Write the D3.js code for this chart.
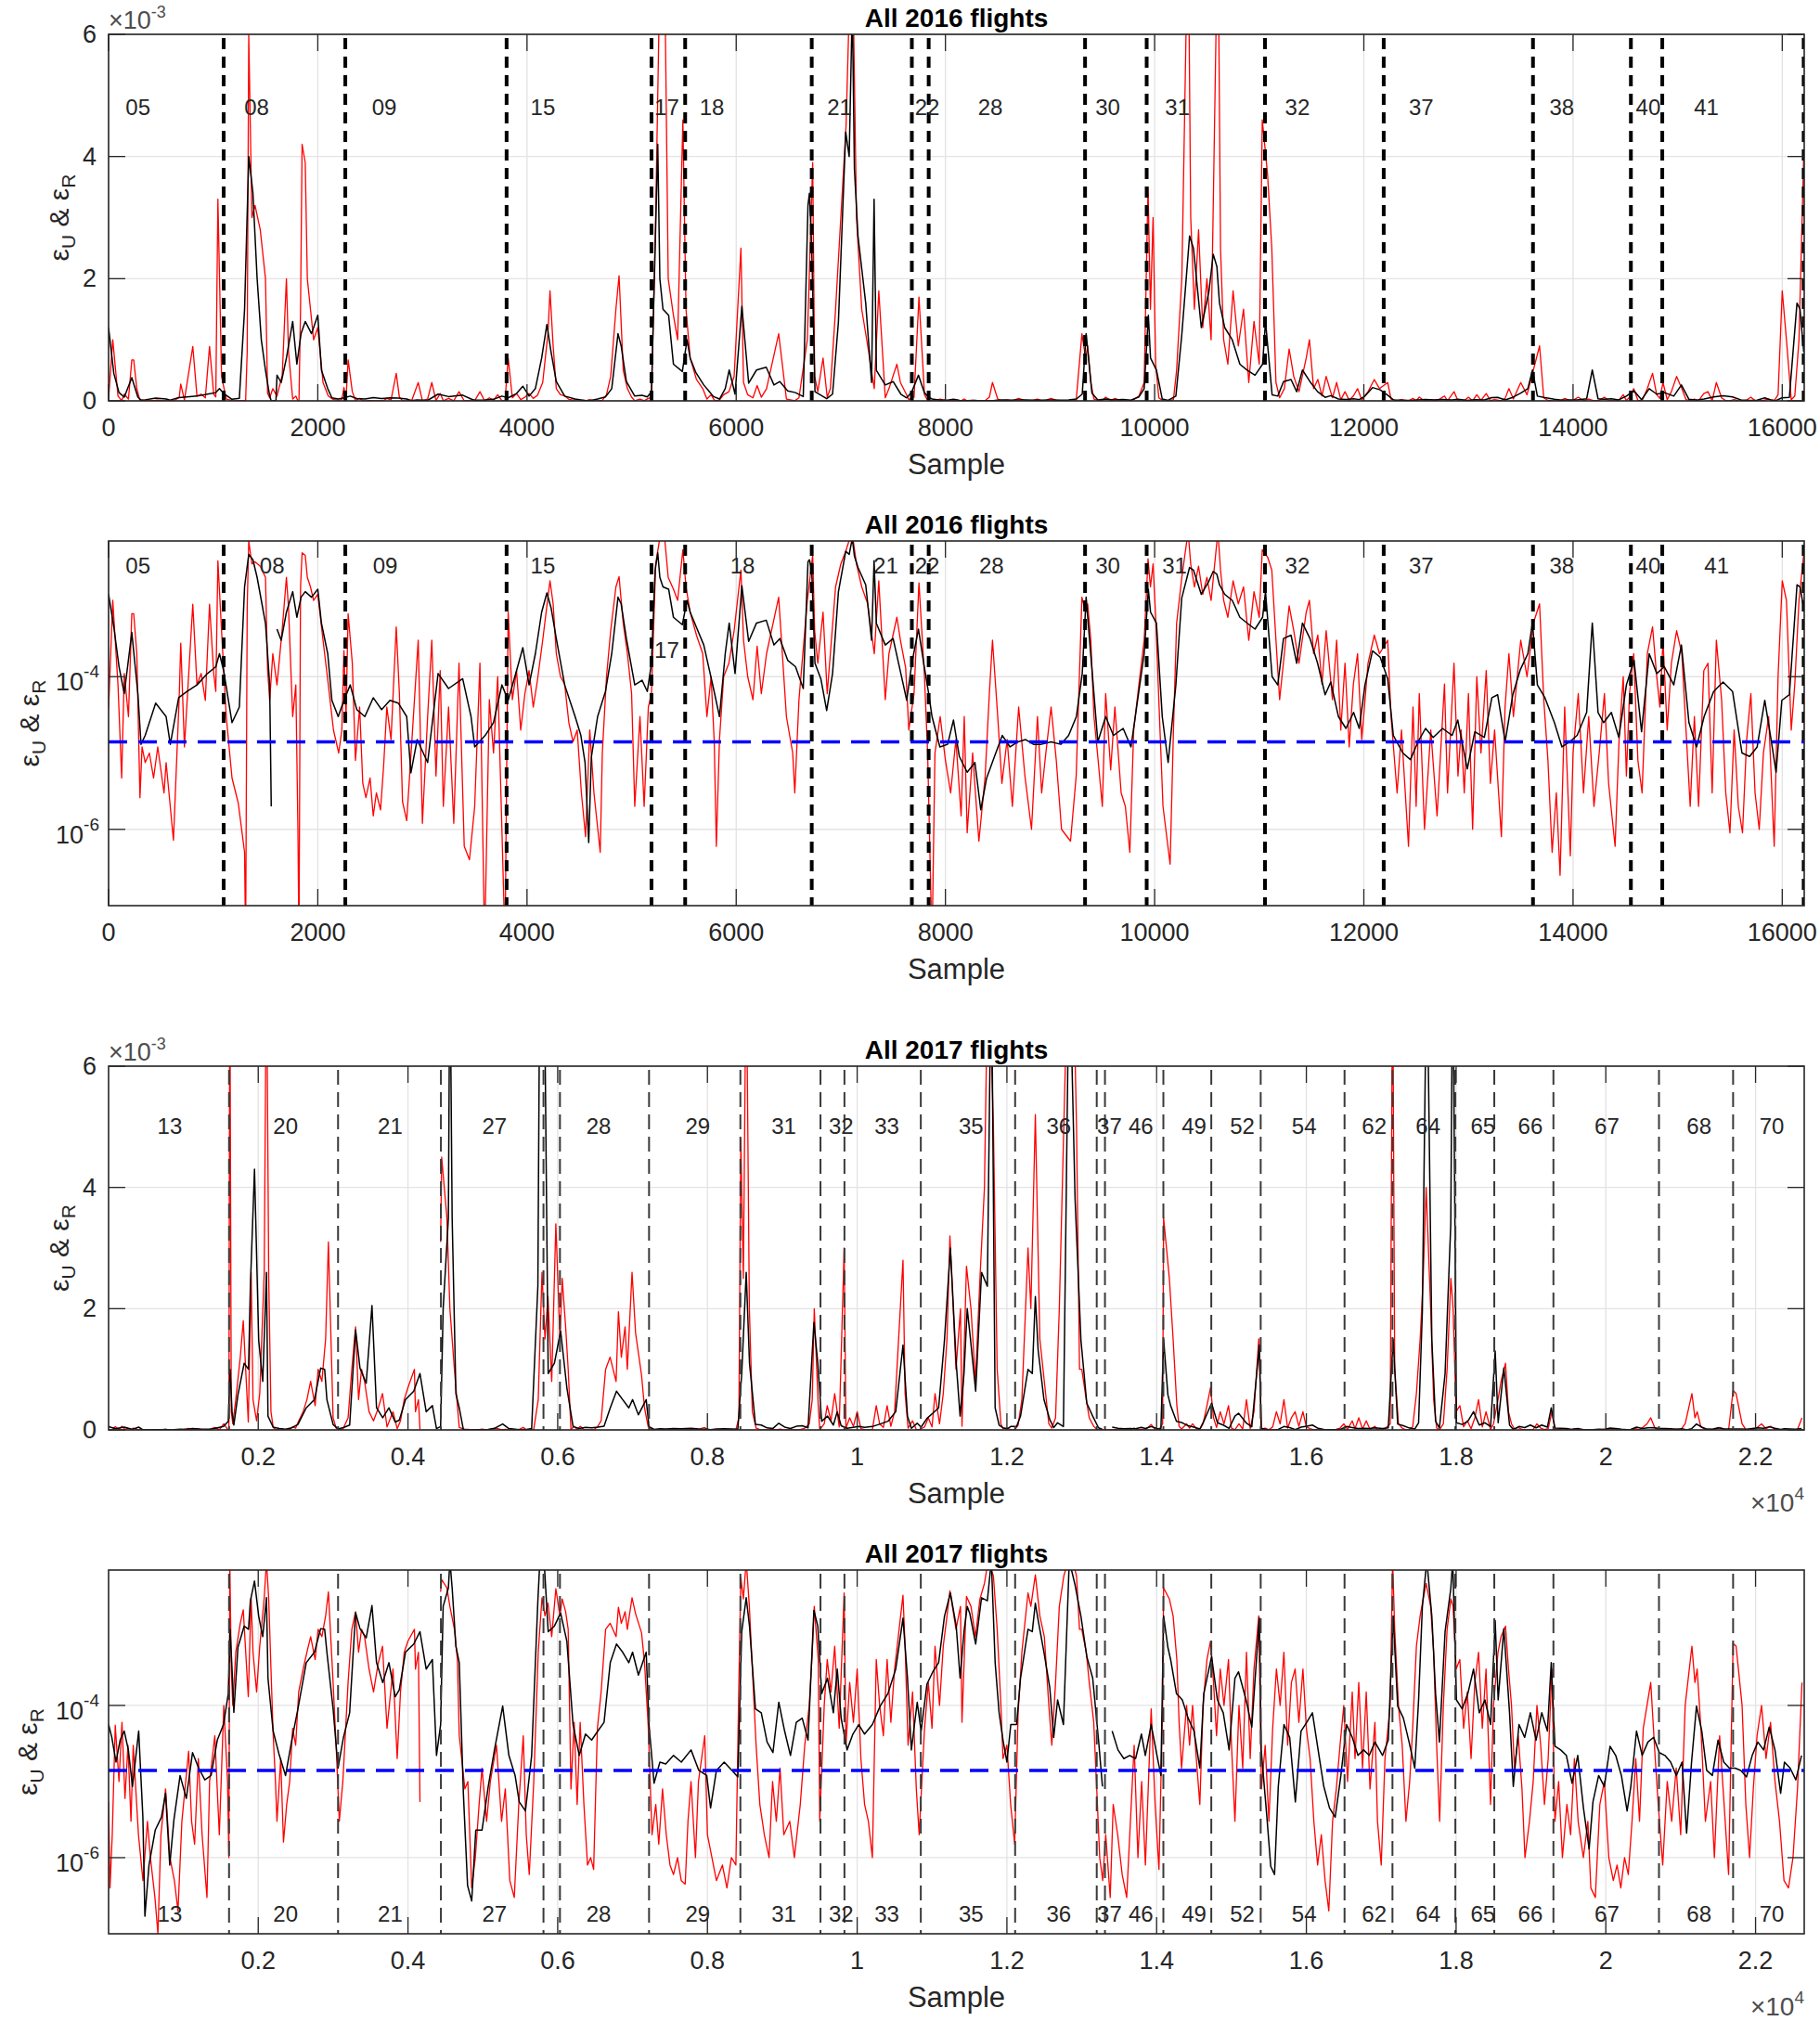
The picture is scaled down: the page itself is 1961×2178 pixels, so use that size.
<!DOCTYPE html>
<html><head><meta charset="utf-8">
<script src="https://cdn.jsdelivr.net/npm/d3@7"></script>
<style>body{margin:0;background:#fff}svg text{font-family:"Liberation Sans",Arial,Helvetica,sans-serif}</style>
</head><body><svg id="c" width="1961" height="2178"></svg>
<script>
// ---- DATA (values in units of 1e-6; [sample, value]) ----
const black2016 = [[0,1200],[50,450],[100,135],[150,60],[222,380],[280,60],[310,13],[350,17],[450,45],[550,30],[590,13],[670,53],[750,64],[845,78],[945,110],[1025,135],[1060,200],[1100,120],[1180,25],[1250,40],[1300,1500],[1340,4000],[1380,3400],[1420,2000],[1460,1000],[1500,500],[1540,78],[1555,2],[1565,0],[1600,0],[1610,420],[1650,300],[1700,700],[1760,1300],[1800,600],[1840,1100],[1880,1300],[1940,1100],[2000,1400],[2035,500],[2095,200],[2135,49],[2195,30],[2250,49],[2310,78],[2373,37],[2450,30],[2530,53],[2610,37],[2690,49],[2770,45],[2850,30],[2890,5.5],[2950,15],[3050,7.5],[3150,110],[3250,70],[3385,94],[3465,30],[3500,12],[3600,17],[3680,25],[3760,78],[3820,49],[3900,120],[3960,240],[4020,78],[4080,200],[4140,700],[4190,1250],[4230,800],[4280,316],[4360,78],[4460,30],[4515,17],[4555,7.5],[4590,0.67],[4615,8.8],[4675,30],[4750,64],[4810,200],[4870,1100],[4900,900],[4950,316],[5030,78],[5100,90],[5150,64],[5190,150],[5225,2500],[5250,4200],[5270,2000],[5300,1500],[5354,1400],[5400,600],[5485,480],[5530,1000],[5560,700],[5615,460],[5690,260],[5783,70],[5840,30],[5895,200],[5933,505],[5989,110],[6054,1550],[6119,290],[6194,505],[6287,550],[6361,260],[6417,316],[6492,164],[6567,135],[6641,70],[6686,3200],[6700,3400],[6722,2500],[6753,150],[6809,94],[6865,36],[6921,110],[6977,1290],[7047,4400],[7080,4000],[7110,6500],[7130,3800],[7164,2700],[7238,1600],[7294,300],[7318,3300],[7340,500],[7425,260],[7500,316],[7574,110],[7630,49],[7679,150],[7742,420],[7798,135],[7840,60],[7872,30],[7947,12],[8021,13],[8077,27],[8133,9],[8208,5.6],[8282,7.5],[8338,1.8],[8394,4.7],[8469,9],[8544,17],[8618,12],[8693,14],[8767,15],[8842,13],[8916,13],[9010,14],[9103,13],[9178,17],[9252,30],[9308,110],[9345,1100],[9401,124],[9457,14],[9532,30],[9606,17],[9699,21],[9774,12],[9849,64],[9900,200],[9940,1400],[9961,700],[10017,505],[10073,30],[10129,7.5],[10203,78],[10259,1070],[10334,2700],[10371,2500],[10446,1200],[10520,1800],[10560,2400],[10595,2200],[10620,1600],[10670,1200],[10742,1000],[10815,600],[10887,500],[10960,420],[11032,600],[11060,1300],[11123,100],[11177,78],[11232,316],[11304,350],[11358,150],[11413,505],[11485,316],[11558,150],[11630,58],[11684,85],[11757,30],[11829,21],[11902,34],[11956,21],[12011,78],[12083,218],[12156,180],[12228,94],[12282,17],[12373,10],[12445,8.2],[12518,14],[12590,21],[12663,16],[12753,21],[12844,17],[12898,27],[12989,6.2],[13061,19],[13152,16],[13224,53],[13279,58],[13351,14],[13424,58],[13496,124],[13568,200],[13612,505],[13659,78],[13731,53],[13822,25],[13894,12],[13967,14],[14039,17],[14130,34],[14184,505],[14239,34],[14293,25],[14366,34],[14438,16],[14510,78],[14583,164],[14655,19],[14728,200],[14800,110],[14873,135],[14963,78],[15036,260],[15108,25],[15181,12],[15253,30],[15344,64],[15434,85],[15525,64],[15615,10],[15688,9],[15760,12],[15833,49],[15887,17],[15941,5.6],[15996,49],[16068,58],[16141,1600],[16170,1500],[16205,800]];

const red2016 = [[0,38],[40,1000],[90,78],[125,4.7],[150,110],[190,30],[222,670],[240,670],[270,200],[300,2.6],[320,12],[350,7.5],[390,10],[430,4.7],[470,12],[530,3],[550,7.5],[620,0.72],[675,53],[690,275],[725,12],[805,890],[845,78],[885,110],[925,49],[965,890],[1005,110],[1025,64],[1045,3300],[1080,400],[1125,30],[1180,4.7],[1240,2.2],[1300,0.5],[1310,0.03],[1325,800],[1340,6000],[1370,3000],[1400,3200],[1450,2800],[1500,2000],[1520,124],[1540,49],[1570,200],[1610,78],[1660,420],[1700,2000],[1720,808],[1760,30],[1790,78],[1810,1],[1820,0.03],[1835,1500],[1850,4200],[1880,3900],[1900,2000],[1930,1500],[1960,1000],[2000,1200],[2050,300],[2100,80],[2150,20],[2200,10],[2230,20],[2250,220],[2270,30],[2290,670],[2330,150],[2360,8],[2400,40],[2430,4],[2460,2.6],[2500,4.7],[2530,1.5],[2560,3],[2600,1.8],[2630,7],[2660,40],[2700,15],[2750,450],[2780,60],[2810,2.3],[2850,1.3],[2900,15],[2960,300],[3000,1.2],[3050,30],[3090,300],[3130,5],[3170,120],[3200,2],[3250,40],[3300,1.2],[3350,150],[3400,0.6],[3450,0.4],[3500,2],[3550,150],[3595,0.03],[3640,50],[3680,10],[3720,100],[3760,1],[3790,0.03],[3820,700],[3860,50],[3900,120],[3940,20],[3980,60],[4020,120],[4060,40],[4100,90],[4150,300],[4200,1100],[4220,1800],[4250,900],[4280,200],[4320,100],[4360,80],[4400,25],[4440,14],[4480,20],[4520,3],[4560,0.8],[4600,20],[4640,3],[4700,0.5],[4720,10],[4760,100],[4800,400],[4850,1500],[4880,2050],[4920,500],[4960,200],[5000,60],[5030,2],[5080,30],[5120,2],[5160,40],[5190,60],[5230,3000],[5280,8000],[5310,8000],[5350,2000],[5400,1400],[5440,1000],[5490,4600],[5520,1500],[5560,700],[5620,350],[5680,200],[5720,30],[5760,100],[5790,14],[5810,0.6],[5840,15],[5880,100],[5930,150],[5980,400],[6045,2500],[6070,300],[6110,100],[6160,50],[6200,250],[6240,60],[6290,200],[6406,1100],[6480,30],[6540,10],[6560,3],[6600,50],[6680,1000],[6731,3900],[6750,400],[6780,150],[6830,700],[6870,60],[6900,200],[6950,1500],[7000,3000],[7050,4500],[7106,8000],[7150,3000],[7200,1500],[7257,900],[7320,200],[7363,1800],[7425,50],[7460,200],[7536,600],[7570,300],[7620,130],[7650,20],[7700,60],[7747,1700],[7800,100],[7830,10],[7872,0.03],[7900,10],[7950,30],[8000,8],[8050,3],[8100,15],[8150,1.5],[8180,30],[8208,0.9],[8260,10],[8320,0.7],[8380,5],[8420,60],[8450,300],[8500,30],[8540,4],[8590,15],[8640,2],[8700,40],[8760,5],[8823,1],[8880,30],[8920,3],[8960,10],[9010,40],[9060,8],[9110,1],[9196,0.7],[9250,5],[9305,1100],[9340,700],[9360,900],[9390,300],[9420,30],[9460,8],[9500,2],[9532,60],[9580,6],[9620,40],[9680,3],[9720,2],[9763,0.5],[9800,20],[9850,80],[9900,300],[9937,3500],[9960,1500],[9985,3000],[10010,600],[10040,50],[10080,2],[10148,0.35],[10180,20],[10210,500],[10260,2000],[10320,8000],[10345,3000],[10380,1500],[10420,2800],[10460,1200],[10500,2000],[10540,1000],[10605,8000],[10630,2500],[10660,1000],[10700,600],[10750,1800],[10800,900],[10850,1500],[10900,300],[10950,1300],[11000,600],[11029,4600],[11080,3700],[11120,2500],[11160,300],[11195,50],[11240,200],[11286,850],[11330,400],[11380,150],[11449,700],[11480,1000],[11520,200],[11560,350],[11600,80],[11640,400],[11700,50],[11740,300],[11780,20],[11820,150],[11860,12],[11900,80],[11940,200],[11980,15],[12040,150],[12100,350],[12150,200],[12228,300],[12260,30],[12318,3],[12360,20],[12427,0.6],[12470,40],[12500,2],[12530,60],[12580,1],[12640,20],[12700,1.5],[12771,80],[12800,3],[12862,150],[12900,5],[12930,20],[12960,3],[13000,60],[13040,1],[13080,100],[13120,10],[13170,120],[13210,4],[13250,20],[13315,0.8],[13350,40],[13387,200],[13430,30],[13500,300],[13560,100],[13620,500],[13680,900],[13720,50],[13760,8],[13800,0.5],[13840,3],[13876,0.25],[13920,40],[13974,0.45],[14000,10],[14050,60],[14100,3],[14150,30],[14200,2],[14250,10],[14300,60],[14340,4],[14402,0.6],[14440,15],[14480,100],[14510,5],[14540,60],[14580,200],[14620,8],[14660,3],[14710,200],[14760,450],[14800,100],[14830,40],[14860,300],[14900,20],[14940,150],[14990,400],[15040,200],[15080,20],[15120,2],[15160,30],[15200,2],[15250,120],[15290,150],[15330,3],[15370,300],[15420,50],[15460,3],[15500,0.9],[15540,20],[15580,2],[15620,0.9],[15660,15],[15700,60],[15740,3],[15780,1],[15820,10],[15870,30],[15923,0.6],[15960,100],[16000,1800],[16040,1000],[16086,20],[16120,80],[16160,1000],[16205,4000]];

const black2017 = [[1,56],[44,38],[100,18],[155,35],[210,46],[265,26],[320,8.6],[403,46],[459,3.4],[486,0.17],[541,0.8],[624,2.3],[707,3.4],[762,7],[818,0.8],[873,3.1],[956,12],[1039,6],[1122,24],[1205,15],[1287,10.5],[1370,12],[1453,35],[1536,56],[1600,143],[1624,1000],[1650,300],[1674,81],[1729,580],[1812,1100],[1870,1000],[1895,2370],[1950,4300],[2006,1480],[2060,800],[2110,2600],[2130,228],[2199,46],[2282,22],[2365,12],[2448,35],[2530,90],[2641,364],[2751,500],[2834,1020],[2887,1000],[2917,500],[3000,90],[3066,15],[3138,38],[3221,80],[3300,1650],[3359,1020],[3442,770],[3519,2050],[3580,364],[3663,200],[3746,364],[3829,130],[3884,160],[3967,500],[4077,640],[4160,930],[4243,300],[4326,400],[4381,22],[4436,56],[4470,2000],[4540,3500],[4560,8000],[4590,3500],[4640,600],[4685,364],[4740,7],[4796,0.43],[4851,0.27],[4906,2.3],[4989,2.3],[5072,8.6],[5155,26],[5265,98],[5348,22],[5431,12],[5486,5.4],[5569,4.1],[5652,22],[5735,2370],[5762,8000],[5818,8000],[5873,930],[5956,1100],[6039,1630],[6122,700],[6205,56],[6288,22],[6371,42],[6453,35],[6536,46],[6619,60],[6702,364],[6785,640],[6868,500],[6950,364],[7000,500],[7078,250],[7182,500],[7219,56],[7287,9.5],[7365,18],[7443,17],[7547,22],[7651,18],[7781,26],[7885,14],[7990,12],[8042,4.5],[8120,14],[8224,18],[8328,14],[8406,11.5],[8458,930],[8518,2600],[8562,1100],[8641,90],[8719,80],[8797,33],[8875,24],[8953,110],[9031,46],[9109,22],[9187,60],[9266,68],[9344,35],[9422,1770],[9474,1100],[9526,143],[9604,228],[9682,80],[9734,300],[9786,68],[9865,26],[9943,42],[10021,56],[10099,42],[10203,56],[10307,98],[10411,143],[10515,300],[10612,1400],[10672,228],[10724,26],[10802,110],[10854,46],[10932,190],[11010,276],[11088,364],[11166,1480],[11245,3000],[11323,1100],[11375,228],[11427,930],[11470,2000],[11505,1600],[11583,640],[11661,2600],[11739,2370],[11792,8000],[11843,364],[11896,80],[11948,35],[12000,18],[12052,56],[12130,56],[12182,228],[12282,1000],[12339,930],[12380,2200],[12417,1320],[12495,500],[12573,170],[12625,38],[12677,118],[12755,56],[12833,8000],[12911,3800],[12989,1480],[13067,440],[13146,228],[13224,35],[13276,8.6],[13300,null],[13406,46],[13484,26],[13562,20],[13640,22],[13719,20],[13797,42],[13849,22],[13927,56],[14005,22],[14057,12],[14093,1500],[14150,580],[14187,400],[14265,143],[14343,118],[14421,68],[14499,46],[14577,15],[14630,143],[14734,440],[14812,118],[14890,80],[14968,26],[15046,228],[15094,276],[15195,118],[15271,52],[15372,1400],[15397,26],[15473,3.4],[15524,0.77],[15575,0.6],[15625,8.6],[15701,56],[15777,38],[15853,5.4],[15929,46],[16005,60],[16081,80],[16157,26],[16233,8.6],[16309,4.5],[16385,3.4],[16461,12],[16537,56],[16613,38],[16689,22],[16765,26],[16840,22],[16916,33],[17018,22],[17094,35],[17159,1500],[17220,98],[17296,68],[17372,33],[17448,15],[17499,118],[17549,1950],[17609,8000],[17676,1480],[17726,143],[17777,33],[17853,930],[17929,3400],[17955,8000],[18005,118],[18081,90],[18157,143],[18233,300],[18309,80],[18385,118],[18461,56],[18522,1300],[18562,118],[18638,1020],[18714,80],[18764,8.6],[18840,56],[18916,38],[18992,80],[19068,35],[19144,80],[19220,46],[19271,364],[19321,29],[19397,26],[19473,22],[19549,9.5],[19625,22],[19701,4.5],[19777,1.3],[19828,5.4],[19904,12],[19980,8.6],[20056,29],[20132,22],[20208,12],[20284,4.1],[20334,8.6],[20410,46],[20486,22],[20562,33],[20638,38],[20714,24],[20790,22],[20866,18],[20942,12],[21018,18],[21079,2.1],[21145,18],[21211,98],[21282,46],[21347,14],[21423,12],[21499,35],[21575,18],[21651,15],[21727,15],[21803,14],[21879,11.5],[21955,22],[22031,33],[22107,26],[22183,52],[22259,26],[22335,7],[22386,18],[22462,15],[22538,10.5],[22614,22]];

const red2017 = [[1,5.4],[20,0.4],[50,2],[90,55],[140,10],[180,60],[220,6],[260,30],[300,3],[330,30],[400,2],[460,0.5],[520,3],[560,1],[620,0.3],[660,0.1],[700,2],[762,8],[820,1],[880,0.5],[928,0.2],[980,3],[1070,25],[1110,3],[1150,1.5],[1200,20],[1250,2],[1315,0.3],[1350,10],[1420,40],[1480,2],[1540,100],[1590,10],[1608,1],[1620,8000],[1640,300],[1660,100],[1700,500],[1760,1200],[1800,1800],[1867,130],[1905,2600],[1930,500],[1978,150],[2020,600],[2080,2600],[2110,8000],[2140,2500],[2170,300],[2200,40],[2230,10],[2250,3],[2300,20],[2337,1.6],[2380,5],[2420,10],[2460,50],[2500,30],[2540,150],[2600,300],[2650,500],[2700,800],[2760,400],[2800,1000],[2850,800],[2900,1500],[2937,3100],[3000,200],[3040,30],[3083,3],[3130,10],[3200,200],[3250,1000],[3300,1700],[3340,500],[3380,1000],[3420,800],[3480,300],[3540,150],[3600,350],[3660,600],[3720,50],[3800,300],[3856,20],[3900,150],[3950,500],[4000,700],[4086,1000],[4100,300],[4140,500],[4160,5.4],[4170,null],[4436,3100],[4450,4500],[4520,3500],[4560,2000],[4620,1000],[4660,400],[4685,40],[4760,8],[4800,10],[4851,0.4],[4900,1],[4950,5],[4989,15],[5050,3],[5100,10],[5182,30],[5250,3],[5300,8],[5360,0.5],[5420,0.3],[5480,5],[5540,40],[5580,2],[5620,0.6],[5680,10],[5740,500],[5790,2600],[5830,1500],[5870,2200],[5920,800],[5975,3400],[6030,1500],[6060,2500],[6106,1700],[6140,1000],[6177,8],[6220,60],[6260,5],[6300,60],[6350,5],[6398,0.8],[6440,1],[6480,0.7],[6530,50],[6580,150],[6640,1000],[6700,1200],[6780,800],[6811,1950],[6850,1200],[6900,1700],[6930,1000],[6993,2600],[7040,1600],[7120,900],[7160,360],[7208,56],[7260,2],[7310,5],[7350,1.5],[7400,8],[7450,2],[7500,0.8],[7547,0.6],[7600,1],[7650,0.5],[7703,0.45],[7740,3],[7781,10],[7840,1],[7880,10],[7964,40],[8000,2],[8060,1],[8120,0.5],[8200,0.8],[8260,0.4],[8320,1],[8380,0.8],[8420,200],[8446,4800],[8480,2500],[8518,8000],[8560,2000],[8600,300],[8650,30],[8700,5],[8760,2],[8823,1],[8870,10],[8920,3],[8970,15],[9020,2],[9100,3],[9161,1],[9240,5],[9300,30],[9360,100],[9400,500],[9427,2000],[9480,400],[9500,3],[9560,100],[9600,400],[9650,150],[9700,600],[9760,50],[9826,3000],[9850,30],[9900,200],[9950,60],[10000,300],[10050,20],[10099,5],[10150,3],[10203,1],[10255,400],[10300,100],[10350,40],[10400,400],[10450,60],[10500,300],[10612,2800],[10640,600],[10680,30],[10740,150],[10790,8],[10828,2],[10900,50],[10950,200],[11000,50],[11040,600],[11100,100],[11150,600],[11200,1500],[11239,3200],[11320,1000],[11380,2000],[11400,60],[11460,2700],[11520,2000],[11580,800],[11640,2500],[11700,4000],[11750,8000],[11820,5000],[11870,1000],[11920,100],[11948,20],[12000,30],[12050,5],[12104,1.5],[12150,80],[12200,500],[12282,3000],[12320,2000],[12380,5200],[12440,1500],[12500,800],[12560,100],[12600,30],[12650,200],[12700,2000],[12760,5000],[12820,8000],[12880,8000],[12930,5000],[12970,1000],[13000,1000],[13060,500],[13100,200],[13160,60],[13200,8],[13240,1],[13280,0.5],[13320,2],[13380,0.3],[13420,5],[13480,2],[13540,0.6],[13600,0.3],[13650,3],[13700,30],[13750,1],[13800,10],[13850,0.8],[13927,90],[13980,5],[14031,0.7],[14080,100],[14093,3500],[14170,2500],[14220,1500],[14270,400],[14300,60],[14333,15],[14400,100],[14440,30],[14480,100],[14530,20],[14577,5],[14620,100],[14672,400],[14720,700],[14760,200],[14800,40],[14850,300],[14900,100],[14960,400],[15000,30],[15046,3],[15100,100],[15150,15],[15200,500],[15250,20],[15300,300],[15364,1500],[15400,8],[15450,30],[15500,3],[15550,50],[15600,300],[15650,100],[15700,500],[15750,30],[15800,200],[15850,300],[15900,60],[15954,300],[16000,50],[16050,20],[16100,3],[16150,0.8],[16200,2],[16250,0.5],[16300,0.2],[16350,3],[16400,8],[16450,30],[16500,100],[16550,10],[16613,150],[16650,20],[16700,200],[16750,15],[16800,150],[16850,8],[16916,60],[16950,3],[17000,0.8],[17050,20],[17120,100],[17152,8000],[17180,1000],[17230,100],[17280,30],[17330,3],[17380,10],[17420,50],[17470,600],[17520,1500],[17560,2500],[17600,4000],[17660,2000],[17700,500],[17740,30],[17780,3],[17830,100],[17880,1000],[17930,2500],[17960,2000],[18000,300],[18050,400],[18100,50],[18150,150],[18200,20],[18250,200],[18300,500],[18350,50],[18400,300],[18460,5],[18500,100],[18560,500],[18600,800],[18660,1100],[18700,300],[18740,100],[18780,15],[18830,40],[18880,8],[18920,1],[18980,3],[19030,10],[19080,100],[19130,30],[19180,5],[19230,20],[19280,300],[19320,3],[19370,10],[19420,1],[19480,5],[19530,2],[19580,20],[19630,3],[19700,1],[19760,3],[19800,0.4],[19860,0.3],[19920,5],[19980,10],[20040,1],[20100,0.5],[20150,0.8],[20200,0.4],[20250,1],[20300,0.6],[20350,3],[20400,20],[20450,3],[20500,50],[20550,100],[20600,200],[20660,20],[20700,5],[20760,0.8],[20820,10],[20880,3],[20940,15],[21000,2],[21060,100],[21150,600],[21190,200],[21220,300],[21270,50],[21330,3],[21400,10],[21450,1],[21520,40],[21580,5],[21640,0.6],[21700,650],[21740,600],[21820,100],[21870,5],[21920,1],[21970,8],[22020,40],[22080,100],[22140,20],[22200,60],[22260,10],[22320,3],[22380,0.5],[22440,0.4],[22500,1],[22560,8],[22620,200]];

const bounds2016 = [1100,2263,3805,5190,5512,6722,7679,7840,9335,9924,11055,12190,13617,14553,14853,16205];
const bounds2017 = [1610,3066,4440,5810,6030,7220,8440,9510,9830,10850,12110,13200,13310,14090,14730,15390,16510,17150,17990,18510,19300,20710,21700];

const flights2016 = ["05","08","09","15","17","18","21","22","28","30","31","32","37","38","40","41"];
const flightX2016lin = [281,1415,2636,4152,5336,5767,6988,7826,8430,9552,10218,11365,12549,13893,14719,15274];
const flightX2016log = [281,1563,2645,4152,5336,6060,7430,7826,8440,9552,10190,11365,12549,13893,14719,15373];
const flightY2016log = [2.85e-3,2.85e-3,2.85e-3,2.85e-3,2.2e-4,2.85e-3,2.85e-3,2.85e-3,2.85e-3,2.85e-3,2.85e-3,2.85e-3,2.85e-3,2.85e-3,2.85e-3,2.85e-3];
const flights2017 = ["13","20","21","27","28","29","31","32","33","35","36","37","46","49","52","54","62","64","65","66","67","68","70"];
const flightX2017 = [818,2365,3763,5155,6547,7870,9021,9786,10396,11521,12693,13370,13790,14500,15144,15970,16906,17625,18359,18992,20015,21245,22217];

const xTicks2016 = [0,2000,4000,6000,8000,10000,12000,14000,16000];
const xTicks2017 = [2000,4000,6000,8000,10000,12000,14000,16000,18000,20000,22000];
const yTicksLin = [0,2e-3,4e-3,6e-3];
const yTicksLog = [1e-6,1e-4];
const threshold = 1.4e-5;
const domain2016 = [0,16210];
const domain2017 = [1,22650];

// ---- DRAWING ----
const svg = d3.select("#c");
const L = 117, R = 1944;
const AX = "#262626";
const panels = [
  {top:37,  bottom:432,  log:false, title:"All 2016 flights", black:black2016, red:red2016, bounds:bounds2016, thick:true, names:flights2016, nx:flightX2016lin, ny:flights2016.map(()=>4.8e-3), xt:xTicks2016, dom:domain2016, e4:false, ylx:74},
  {top:583, bottom:976,  log:true,  title:"All 2016 flights", black:black2016, red:red2016, bounds:bounds2016, thick:true, names:flights2016, nx:flightX2016log, ny:flightY2016log, xt:xTicks2016, dom:domain2016, e4:false, ylx:42},
  {top:1149,bottom:1541, log:false, title:"All 2017 flights", black:black2017, red:red2017, bounds:bounds2017, thick:false, names:flights2017, nx:flightX2017, ny:flights2017.map(()=>5e-3), xt:xTicks2017, dom:domain2017, e4:true, ylx:74},
  {top:1692,bottom:2084, log:true,  title:"All 2017 flights", black:black2017, red:red2017, bounds:bounds2017, thick:false, names:flights2017, nx:flightX2017, ny:flights2017.map(()=>1.8e-7), xt:xTicks2017, dom:domain2017, e4:true, ylx:40}
];

panels.forEach((p,i)=>{
  const x = d3.scaleLinear().domain(p.dom).range([L,R]);
  const y = p.log ? d3.scaleLog().domain([1e-7,6e-3]).range([p.bottom,p.top])
                  : d3.scaleLinear().domain([0,6e-3]).range([p.bottom,p.top]);
  const yt = p.log ? yTicksLog : yTicksLin;
  const g = svg.append("g");
  const cid = "clip"+i;
  svg.append("clipPath").attr("id",cid).append("rect")
     .attr("x",L).attr("y",p.top).attr("width",R-L).attr("height",p.bottom-p.top);

  // grid
  g.selectAll(".gx").data(p.xt).join("line")
    .attr("x1",d=>x(d)).attr("x2",d=>x(d)).attr("y1",p.top).attr("y2",p.bottom)
    .attr("stroke","#e3e3e3").attr("stroke-width",1.3);
  g.selectAll(".gy").data(yt).join("line")
    .attr("x1",L).attr("x2",R).attr("y1",d=>y(d)).attr("y2",d=>y(d))
    .attr("stroke","#e3e3e3").attr("stroke-width",1.3);

  const dg = g.append("g").attr("clip-path",`url(#${cid})`);
  const line = d3.line()
    .defined(d=>d[1]!==null && (!p.log || d[1]>0))
    .x(d=>x(d[0])).y(d=>y(d[1]*1e-6));
  dg.append("path").datum(p.red).attr("d",line).attr("fill","none")
    .attr("stroke","#ff0000").attr("stroke-width",1.3).attr("stroke-linejoin","round");
  dg.append("path").datum(p.black).attr("d",line).attr("fill","none")
    .attr("stroke","#000").attr("stroke-width",1.5).attr("stroke-linejoin","round");

  // boundaries
  dg.selectAll(".b").data(p.bounds).join("line")
    .attr("x1",d=>x(d)).attr("x2",d=>x(d)).attr("y1",p.top+4).attr("y2",p.bottom)
    .attr("stroke",p.thick?"#000":"#3a3a3a")
    .attr("stroke-width",p.thick?4:2)
    .attr("stroke-dasharray",p.thick?"12,8":"16,8");

  if(p.log){
    dg.append("line").attr("x1",L).attr("x2",R).attr("y1",y(threshold)).attr("y2",y(threshold))
      .attr("stroke","#0000ff").attr("stroke-width",3.5).attr("stroke-dasharray","20,12");
  }

  // flight labels
  g.selectAll(".fl").data(p.names).join("text")
    .attr("x",(d,k)=>x(p.nx[k])).attr("y",(d,k)=>y(p.ny[k])+8)
    .attr("text-anchor","middle").attr("font-size",24).attr("fill",AX).text(d=>d);

  // ticks (inward) on four sides
  const tl = 18;
  const ax = g.append("g").attr("stroke",AX).attr("stroke-width",1.3);
  p.xt.forEach(t=>{
    ax.append("line").attr("x1",x(t)).attr("x2",x(t)).attr("y1",p.bottom).attr("y2",p.bottom-tl);
    ax.append("line").attr("x1",x(t)).attr("x2",x(t)).attr("y1",p.top).attr("y2",p.top+tl);
  });
  yt.forEach(t=>{
    ax.append("line").attr("x1",L).attr("x2",L+tl).attr("y1",y(t)).attr("y2",y(t));
    ax.append("line").attr("x1",R).attr("x2",R-tl).attr("y1",y(t)).attr("y2",y(t));
  });
  g.append("rect").attr("x",L).attr("y",p.top).attr("width",R-L).attr("height",p.bottom-p.top)
    .attr("fill","none").attr("stroke",AX).attr("stroke-width",1.6);

  // x tick labels
  g.selectAll(".xl").data(p.xt).join("text")
    .attr("x",d=>x(d)).attr("y",p.bottom+38).attr("text-anchor","middle")
    .attr("font-size",27).attr("fill",AX)
    .text(d=>p.e4 ? String(+(d/1e4).toFixed(1)) : String(d));

  // y tick labels
  if(!p.log){
    g.selectAll(".yl").data(yt).join("text")
      .attr("x",104).attr("y",d=>y(d)+9).attr("text-anchor","end")
      .attr("font-size",27).attr("fill",AX).text(d=>String(Math.round(d*1e3)));
    const m = g.append("text").attr("x",L).attr("y",p.top-6).attr("font-size",27).attr("fill","#4d4d4d");
    m.append("tspan").text("\u00d710");
    m.append("tspan").attr("dy",-12).attr("font-size",18).text("-3");
  } else {
    yt.forEach(t=>{
      const tx = g.append("text").attr("x",107).attr("y",y(t)+15).attr("text-anchor","end")
        .attr("font-size",27).attr("fill",AX);
      tx.append("tspan").text("10");
      tx.append("tspan").attr("dy",-14).attr("font-size",19).text(String(Math.round(Math.log10(t))));
    });
  }
  if(p.e4){
    const m = g.append("text").attr("x",R).attr("y",p.bottom+88).attr("text-anchor","end")
      .attr("font-size",28).attr("fill","#4d4d4d");
    m.append("tspan").text("\u00d710");
    m.append("tspan").attr("dy",-13).attr("font-size",19).text("4");
  }

  // axis labels and title
  g.append("text").attr("x",(L+R)/2).attr("y",p.bottom+79).attr("text-anchor","middle")
    .attr("font-size",31).attr("fill",AX).text("Sample");
  g.append("text").attr("x",(L+R)/2).attr("y",p.top-8).attr("text-anchor","middle")
    .attr("font-size",28).attr("font-weight","bold").attr("fill","#000").text(p.title);
  const cy = (p.top+p.bottom)/2;
  const yl = g.append("text").attr("transform",`translate(${p.ylx},${cy}) rotate(-90)`)
    .attr("text-anchor","middle").attr("font-size",30).attr("fill",AX);
  yl.append("tspan").text("\u03b5");
  yl.append("tspan").attr("dy",7).attr("font-size",21).text("U");
  yl.append("tspan").attr("dy",-7).text(" & \u03b5");
  yl.append("tspan").attr("dy",7).attr("font-size",21).text("R");
});
</script></body></html>
